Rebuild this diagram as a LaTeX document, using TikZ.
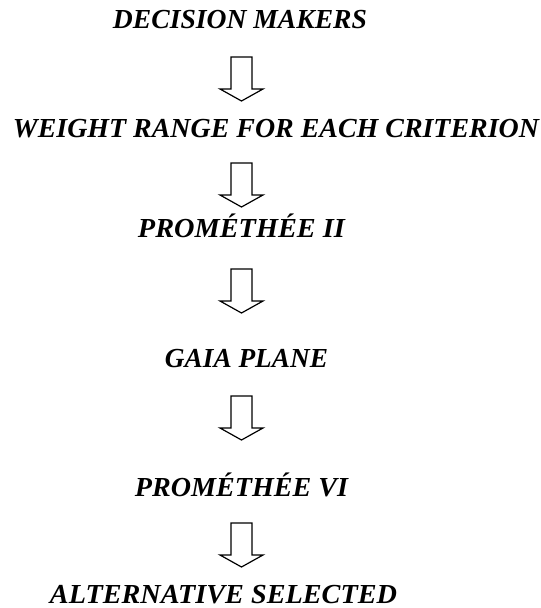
\documentclass[tikz,border=0pt]{standalone}
\usepackage{fontspec}
\usepackage{graphicx}
\setmainfont{Liberation Serif}
\begin{document}
\begin{tikzpicture}[x=1pt,y=-1pt,
  steplabel/.style={anchor=base,inner sep=0pt,outer sep=0pt,
    font=\fontsize{27.5}{30}\selectfont\bfseries\itshape},
  arrowline/.style={draw=black,line width=1.2pt,fill=white,line join=miter},
  blockarrow/.pic={
    \draw[arrowline] (-10.5,0) -- (-10.5,32) -- (-21.5,32) -- (0,44)
      -- (21.5,32) -- (10.5,32) -- (10.5,0) -- cycle;
  }]
  \useasboundingbox (0,0) rectangle (541,608);
  % labels, each stretched to its set width, placed on its baseline
  \node[steplabel] (dm)  at (240,28)    {\resizebox{254pt}{\height}{DECISION MAKERS}};
  \node[steplabel] (wr)  at (276,137)   {\resizebox{526pt}{\height}{WEIGHT RANGE FOR EACH CRITERION}};
  \node[steplabel] (p2)  at (241.5,237) {\resizebox{207pt}{\height}{PROMÉTHÉE II}};
  \node[steplabel] (gp)  at (246.5,367) {\resizebox{163pt}{\height}{GAIA PLANE}};
  \node[steplabel] (p6)  at (241.5,496) {\resizebox{213pt}{\height}{PROMÉTHÉE VI}};
  \node[steplabel] (alt) at (223.5,603) {\resizebox{347pt}{\height}{ALTERNATIVE SELECTED}};
  % hollow block arrows between the steps
  \coordinate (a1) at (241.5,57);
  \coordinate (a2) at (241.5,163);
  \coordinate (a3) at (241.5,269);
  \coordinate (a4) at (241.5,396);
  \coordinate (a5) at (241.5,523);
  \foreach \c in {a1,a2,a3,a4,a5} \pic at (\c) {blockarrow};
\end{tikzpicture}
\end{document}
